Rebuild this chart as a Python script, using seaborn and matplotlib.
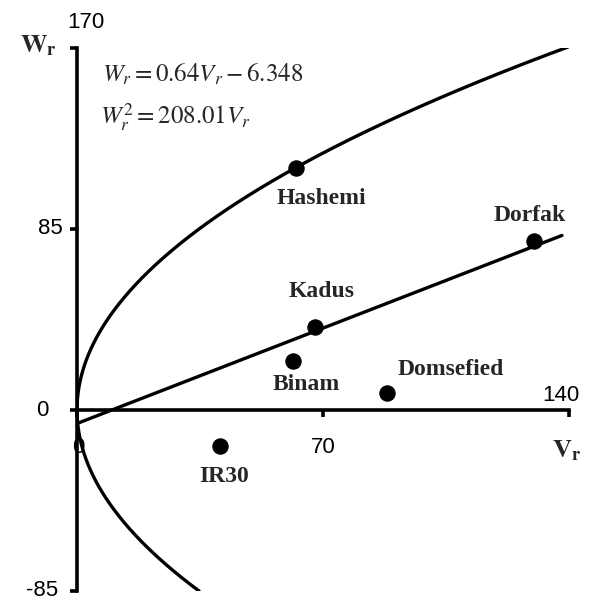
import numpy as np
import pandas as pd
import seaborn as sns
import matplotlib.pyplot as plt

# parents (Vr, Wr)
parents = ["Hashemi", "Dorfak", "Kadus", "Binam", "Domsefied", "IR30"]
vr = [62.3, 130.0, 67.7, 61.5, 88.2, 40.7]
wr = [113.6, 79.3, 39.0, 23.0, 8.0, -16.9]

# regression line and limiting parabola
slope, intercept = 0.64, -6.348
parab_coef = 208.01

x_ticks = [0, 70, 140]
y_ticks = [-85, 0, 85, 170]

sns.set_theme(style="white")
plt.rcParams["mathtext.fontset"] = "stix"
plt.rcParams["font.family"] = ["Liberation Sans Narrow", "Liberation Sans", "DejaVu Sans"]

W, H = 594, 606
fig = plt.figure(figsize=(W / 100, H / 100), dpi=100)
ax = fig.add_axes([77 / W, (H - 591) / H, (569 - 77) / W, (591 - 48) / H])

# parabola Wr^2 = 208.01 Vr, drawn along Wr
w_par = np.linspace(-85, 172, 400)
par = pd.DataFrame({"Vr": w_par ** 2 / parab_coef, "Wr": w_par})
sns.lineplot(data=par, x="Vr", y="Wr", sort=False, color="black", lw=2.4, ax=ax)

v_line = np.array([0, 138])
sns.lineplot(x=v_line, y=slope * v_line + intercept, color="black", lw=2.4, ax=ax)

df = pd.DataFrame({"name": parents, "Vr": vr, "Wr": wr})
sns.scatterplot(data=df, x="Vr", y="Wr", color="black", s=120, edgecolor="black",
                zorder=5, ax=ax, clip_on=False)

# label offsets in pixels
offsets = {"Hashemi": (25, -30), "Dorfak": (-4, 26), "Kadus": (7, 35),
           "Binam": (13, -23), "Domsefied": (64, 23), "IR30": (4, -31)}
for _, r in df.iterrows():
    ax.annotate(r["name"], (r["Vr"], r["Wr"]), xytext=offsets[r["name"]],
                textcoords="offset pixels", ha="center", va="center",
                fontsize=17, fontweight="bold", family="Liberation Serif")

ax.set_xlim(0, 140)
ax.set_ylim(-85, 170)
for s in ["top", "right"]:
    ax.spines[s].set_visible(False)
ax.spines["left"].set_position(("data", 0))
ax.spines["bottom"].set_position(("data", 0))
for s in ["left", "bottom"]:
    ax.spines[s].set_color("black")
    ax.spines[s].set_linewidth(2.6)
ax.set_xticks(x_ticks)
ax.set_yticks(y_ticks)
ax.set_xticklabels([])
ax.set_yticklabels([])
ax.tick_params(axis="both", direction="out", length=5, width=2.6, color="black",
               bottom=True, left=True)
ax.set_xlabel("")
ax.set_ylabel("")

tk = dict(fontsize=16, color="black", ha="center", va="center", clip_on=False)
ax.text(2.6, 182, "170", **tk)
ax.text(-7.7, 85, "85", **tk)
ax.text(-10, 0, "0", **tk)
ax.text(-10, -85, "-85", **tk)
ax.text(0.3, -17.8, "0", **tk)
ax.text(70, -17.8, "70", **tk)
ax.text(137.7, 7, "140", **tk)

ax.text(-11, 171, r"$\mathbf{W_r}$", fontsize=19, ha="center", va="center")
ax.text(139.4, -19, r"$\mathbf{V_r}$", fontsize=19, ha="center", va="center")

ax.text(7.1, 157.7, r"$W_r = 0.64V_r - 6.348$", fontsize=18, ha="left", va="center")
ax.text(6.5, 137.6, r"$W_r^2 = 208.01V_r$", fontsize=18, ha="left", va="center")

fig.savefig("out.png", dpi=100, facecolor="white")
